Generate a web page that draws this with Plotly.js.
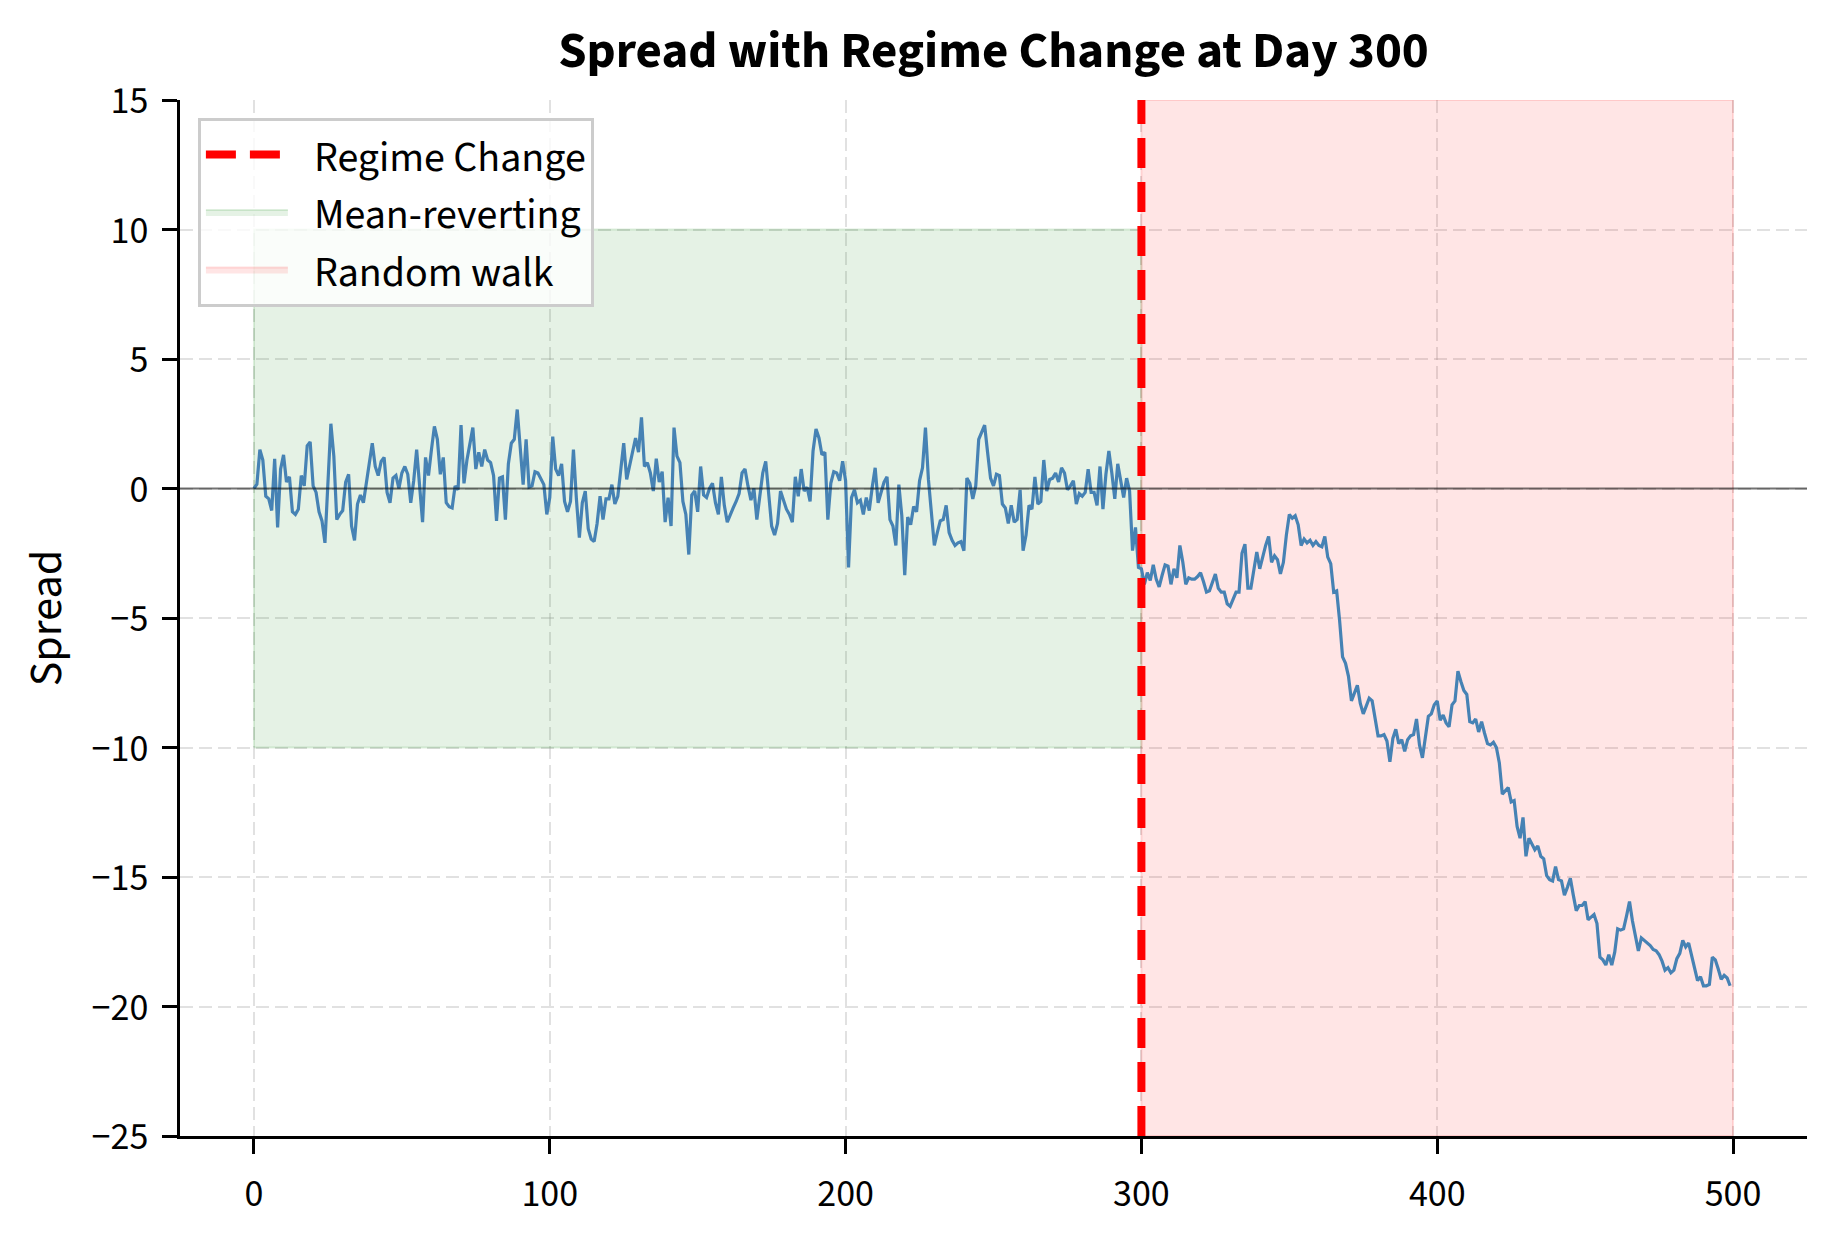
<!DOCTYPE html>
<html>
<head>
<meta charset="utf-8">
<script src="https://cdn.plot.ly/plotly-3.0.1.min.js"></script>
<style>
  html, body { margin: 0; padding: 0; background: #fff; }
  #spread { width: 1834px; height: 1234px; }
</style>
</head>
<body>
<div id="spread"></div>
<script>
// spread values, one per day
var meanRevertingSpread = [
  0, 0.17, 1.5, 1.1, -0.3, -0.4, -0.85, 1.15, -1.5, 0.75,
  1.3, 0.25, 0.45, -0.9, -1.0, -0.8, 0.5, 0.1, 1.65, 1.8,
  0.1, -0.15, -0.9, -1.25, -2.1, 0.2, 2.5, 1.25, -1.2, -1.0,
  -0.85, 0.25, 0.55, -1.45, -2.0, -0.6, -0.25, -0.55, 0.2, 1.1,
  1.75, 0.85, 0.5, 1.05, 1.2, -0.15, -0.55, 0.4, 0.5, 0,
  0.6, 0.85, 0.55, -0.55, 0.3, 1.5, 0.15, -1.3, 1.2, 0.5,
  1.5, 2.4, 1.9, 0.55, 1.2, -0.55, -0.7, -0.75, 0.1, -0.05,
  2.45, 0.2, 1.1, 1.75, 2.35, 0.75, 1.4, 0.85, 1.5, 1.1,
  1.0, 0.5, -1.25, 0.4, 0.45, -1.2, 0.95, 1.75, 1.9, 3.05,
  1.5, 0.15, 1.9, 0.05, 0.1, 0.65, 0.6, 0.4, 0.15, -1.0,
  -0.35, 2.0, 0.75, 0.5, 0.95, -0.5, -0.9, -0.5, 1.5, -0.4,
  -1.9, -0.55, -0.1, -1.55, -1.95, -2.05, -1.35, -0.3, -1.2, -0.4,
  -0.4, 0.15, -0.6, -0.3, 0.8, 1.75, 0.35, 0.85, 1.45, 1.95,
  1.4, 2.75, 0.85, 1.0, 0.6, -0.1, 1.15, 0.25, 0.65, -1.3,
  -0.35, -1.45, 2.35, 1.25, 1.0, -0.5, -1.0, -2.55, -0.25, -0.1,
  -0.9, 0.85, -0.25, -0.35, 0, 0.2, -0.55, -1.0, 0.45, -0.65,
  -1.3, -1.0, -0.75, -0.5, -0.2, 0.6, 0.75, 0.1, -0.45, 0,
  -1.2, -0.3, 0.6, 1.05, -0.3, -1.45, -1.8, -1.35, -0.1, -0.45,
  -0.8, -1.0, -1.3, 0.45, -0.3, 0.75, -0.1, 0.05, -0.5, 1.45,
  2.3, 1.95, 1.3, 1.4, -1.2, 0.2, 0.65, 0.6, 0.3, 1.05,
  0.3, -3.05, -0.35, -0.05, -0.55, -0.45, -1.0, -0.35, -0.85, 0.05,
  0.8, -0.55, -0.1, 0.25, 0.45, -1.2, -1.45, -2.2, 0.15, -1.05,
  -3.35, -1.1, -1.4, -0.7, -0.9, 0.3, 0.8, 2.35, 0.35, -0.9,
  -2.2, -1.7, -1.25, -1.2, -0.65, -1.7, -2.0, -2.2, -2.1, -2.05,
  -2.4, 0.4, 0.2, -0.4, 0.1, 1.9, 2.15, 2.45, 1.4, 0.4,
  0.1, 0.55, 0.5, -0.6, -0.75, -1.35, -0.65, -1.3, -1.2, -0.05,
  -2.4, -1.8, -0.65, -0.8, 0.45, -0.6, -0.5, 1.1, -0.1, 0.35,
  0.4, 0.6, 0.25, 0.8, 0.6, -0.05, 0.1, 0.3, -0.6, -0.2,
  -0.3, -0.15, 0.75, -0.15, -0.15, -0.65, 0.85, -0.8, 0.55, 1.45,
  0.6, -0.4, 0.95, 0.25, -0.35, 0.4, -0.1, -2.4, -1.5, -3.05
];

var randomWalkSpread = [
  -3.1, -3.7, -3.25, -3.55, -2.95, -3.5, -3.8, -3.35, -2.95, -3.0,
  -3.7, -3.1, -3.45, -2.2, -2.85, -3.7, -3.45, -3.5, -3.5, -3.4,
  -3.25, -3.6, -4.0, -3.95, -3.6, -3.3, -3.85, -4.0, -4.0, -4.45,
  -4.55, -4.3, -4.0, -4.0, -2.5, -2.15, -3.85, -3.85, -3.05, -2.45,
  -3.1, -2.6, -2.2, -1.85, -2.85, -2.6, -2.75, -3.3, -2.85, -1.8,
  -1.0, -1.15, -1.05, -1.4, -2.2, -1.95, -2.1, -2.0, -2.2, -2.05,
  -2.2, -2.25, -1.85, -2.65, -2.9, -4.0, -3.95, -5.1, -6.5, -6.75,
  -7.25, -8.2, -7.9, -7.6, -8.3, -8.7, -8.4, -8.1, -8.2, -8.8,
  -9.55, -9.55, -9.5, -9.75, -10.55, -9.65, -9.3, -9.85, -9.7, -10.15,
  -9.7, -9.55, -9.5, -8.9, -9.9, -10.4, -9.65, -8.8, -8.7, -8.35,
  -8.2, -8.95, -8.75, -9.05, -9.2, -8.35, -8.2, -7.05, -7.45, -7.8,
  -7.95, -9.0, -9.05, -8.9, -9.4, -9.0, -9.45, -9.85, -9.9, -9.8,
  -10.0, -10.6, -11.8, -11.65, -11.55, -12.1, -12.05, -13.05, -13.5, -12.7,
  -14.2, -13.5, -13.75, -13.95, -13.8, -14.2, -14.3, -14.95, -15.1, -15.15,
  -14.6, -15.1, -15.15, -15.7, -15.4, -15.05, -15.7, -16.3, -16.1, -16.1,
  -15.95, -16.65, -16.55, -16.45, -16.8, -18.1, -18.2, -18.4, -18.0, -18.4,
  -17.9, -17.0, -17.05, -17.0, -16.5, -15.95, -16.7, -17.3, -17.85, -17.35,
  -17.45, -17.55, -17.65, -17.8, -17.85, -18.0, -18.25, -18.6, -18.5, -18.7,
  -18.6, -18.15, -17.95, -17.45, -17.7, -17.55, -18.05, -18.55, -19.0, -18.85,
  -19.2, -19.2, -19.15, -18.1, -18.2, -18.55, -18.95, -18.8, -18.9, -19.2
];

var regimeChangeDay = 300;
var mrDays = [0, 300];          // mean-reverting band, x extent
var mrBand = [-10, 10];         // mean-reverting band, y extent
var rwDays = [300, 500];        // random walk span
var xLimits = [-25, 525];
var yLimits = [-25, 15];
var xTicks = [0, 100, 200, 300, 400, 500];
var yTicks = [-25, -20, -15, -10, -5, 0, 5, 10, 15];
var zeroLevel = 0;

var spread = meanRevertingSpread.concat(randomWalkSpread);
var days = spread.map(function (v, i) { return i; });

var FONT = '"Source Sans 3", "Source Sans Pro", "Noto Sans", sans-serif';
var GAP = '\u2002';   // a little air between legend handle and label

createPlot();

function createPlot() {
    var meanRev = {
        x: [mrDays[0], mrDays[1], mrDays[1], mrDays[0], mrDays[0]],
        y: [mrBand[0], mrBand[0], mrBand[1], mrBand[1], mrBand[0]],
        type: 'scatter',
        mode: 'lines',
        fill: 'toself',
        fillcolor: 'rgba(0,128,0,0.10)',
        line: { color: 'rgba(0,128,0,0.13)', width: 2 },
        name: GAP + 'Mean-reverting',
        legendgroup: 'b',
        legendrank: 2,
        hoverinfo: 'skip'
    };

    var randWalk = {
        x: [rwDays[0], rwDays[1], rwDays[1], rwDays[0], rwDays[0]],
        y: [yLimits[0], yLimits[0], yLimits[1], yLimits[1], yLimits[0]],
        type: 'scatter',
        mode: 'lines',
        fill: 'toself',
        fillcolor: 'rgba(255,0,0,0.10)',
        line: { color: 'rgba(255,0,0,0.12)', width: 2 },
        name: GAP + 'Random walk',
        legendgroup: 'c',
        legendrank: 3,
        hoverinfo: 'skip'
    };

    var s = {
        x: days,
        y: spread,
        type: 'scatter',
        mode: 'lines',
        line: { color: '#4682b4', width: 3.2 },
        name: 'Spread',
        showlegend: false
    };

    var regime = {
        x: [regimeChangeDay, regimeChangeDay],
        y: yLimits,
        type: 'scatter',
        mode: 'lines',
        line: { color: '#ff0000', width: 8, dash: '30px,14px' },
        name: GAP + 'Regime Change',
        legendgroup: 'a',
        legendrank: 1
    };

    var data = [meanRev, randWalk, s, regime];

    var layout = {
        width: 1834,
        height: 1234,
        margin: { l: 180, r: 27, t: 100, b: 98 },
        paper_bgcolor: '#ffffff',
        plot_bgcolor: '#ffffff',
        font: { family: FONT, size: 38, color: '#000' },
        title: {
            text: 'Spread with Regime Change at Day 300',
            font: { family: FONT, size: 51, color: '#000', weight: 700 },
            xref: 'paper',
            x: 0.5,
            yref: 'container',
            y: 0.96,
            yanchor: 'middle'
        },
        xaxis: {
            range: xLimits,
            tickvals: xTicks,
            showgrid: true,
            gridcolor: 'rgba(170,170,170,0.35)',
            gridwidth: 2,
            griddash: '13px,6px',
            zeroline: false,
            showline: true,
            linecolor: '#000',
            linewidth: 3,
            ticks: 'outside',
            ticklen: 15,
            tickwidth: 3,
            tickcolor: '#000',
            ticklabelstandoff: 6,
            tickfont: { family: FONT, size: 38, color: '#000' }
        },
        yaxis: {
            range: yLimits,
            tickvals: yTicks,
            showgrid: true,
            gridcolor: 'rgba(170,170,170,0.35)',
            gridwidth: 2,
            griddash: '13px,6px',
            zeroline: false,
            showline: true,
            linecolor: '#000',
            linewidth: 3,
            ticks: 'outside',
            ticklen: 15,
            tickwidth: 3,
            tickcolor: '#000',
            ticklabelstandoff: 6,
            tickfont: { family: FONT, size: 38, color: '#000' },
            title: {
                text: 'Spread',
                font: { family: FONT, size: 46, color: '#000' },
                standoff: 16
            }
        },
        shapes: [{
            type: 'line',
            xref: 'paper', x0: 0, x1: 1,
            yref: 'y', y0: zeroLevel, y1: zeroLevel,
            line: { color: 'rgba(0,0,0,0.55)', width: 2 },
            layer: 'above'
        }],
        legend: {
            x: 0.011,
            y: 0.983,
            xanchor: 'left',
            yanchor: 'top',
            bgcolor: 'rgba(255,255,255,0.8)',
            bordercolor: '#cccccc',
            borderwidth: 3,
            itemwidth: 82,
            traceorder: 'grouped',
            tracegroupgap: 0,
            font: { family: FONT, size: 42, color: '#000' }
        },
        showlegend: true
    };

    Plotly.newPlot(document.getElementById('spread'), data, layout, { displayModeBar: false, staticPlot: true });
}
</script>
</body>
</html>
